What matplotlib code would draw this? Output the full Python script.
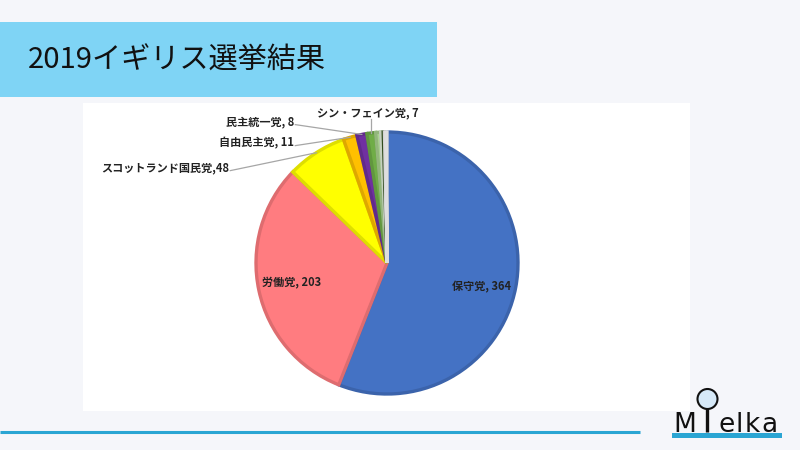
import matplotlib
matplotlib.use("Agg")
import matplotlib.pyplot as plt
import matplotlib.colors as mcolors
from matplotlib.patches import Rectangle, Circle
import numpy as np

plt.rcParams['font.family'] = ['Noto Sans CJK JP', 'DejaVu Sans']

title = "2019イギリス選挙結果"
parties = ["保守党", "労働党", "スコットランド国民党", "自由民主党", "民主統一党",
           "シン・フェイン党", "プライド・カムリ", "社会民主労働党", "緑の党", "同盟党", "議長"]
seats = [364, 203, 48, 11, 8, 7, 4, 2, 1, 1, 1]
labels = ["保守党, 364", "労働党, 203", "スコットランド国民党,48", "自由民主党, 11",
          "民主統一党, 8", "シン・フェイン党, 7", "", "", "", "", ""]
colors = ["#4472c4", "#ff7c80", "#ffff00", "#ffc000", "#7030a0", "#70ad47",
          "#a9d18e", "#e2efda", "#375623", "#f2f2f2", "#ffffff"]

W, H = 800, 450
fig = plt.figure(figsize=(8, 4.5), dpi=100)
fig.patch.set_facecolor("#f5f6fa")

# background axes in pixel coords
bg = fig.add_axes([0, 0, 1, 1])
bg.set_xlim(0, W)
bg.set_ylim(H, 0)
bg.axis("off")
bg.add_patch(Rectangle((0, 22), 437, 75, facecolor="#7fd4f5", edgecolor="none"))
bg.text(28, 61, title, fontsize=21, va="center", ha="left", color="#111111")
bg.add_patch(Rectangle((83, 103), 607, 308, facecolor="white", edgecolor="none"))
bg.plot([0, 640], [432, 432], color="#2aa5d3", lw=2.2, solid_capstyle="butt")

# logo
bg.add_patch(Rectangle((672, 433), 110, 5, facecolor="#2aa5d3", edgecolor="none"))
logo_letters = [("M", 673), ("e", 718), ("l", 736), ("k", 745), ("a", 761)]
for ch, x in logo_letters:
    bg.text(x, 432, ch, fontsize=19, family="DejaVu Sans", va="baseline",
            ha="left", color="#111111")
bg.plot([707, 707], [408, 432], color="#111111", lw=2.4, solid_capstyle="butt")
bg.add_patch(Circle((707.5, 399), 10, facecolor="#d6e9f8", edgecolor="#111111", lw=1.5, zorder=5))

# pie
cx, cy, r = 387, 263, 131
ax = fig.add_axes([(cx - r) / W, (H - cy - r) / H, 2 * r / W, 2 * r / H])

def darker(c, f=0.87):
    rgb = np.array(mcolors.to_rgb(c))
    return tuple(rgb * f)

edges = [darker(c) for c in colors]
wedges, _ = ax.pie(seats, colors=colors, startangle=90, counterclock=False,
                   radius=1.0, wedgeprops=dict(linewidth=2.4))
for w, ec in zip(wedges, edges):
    w.set_edgecolor(ec)
ax.set_xlim(-1, 1)
ax.set_ylim(-1, 1)
ax.axis("off")

total = sum(seats)
def mid_angle(i):
    start = 90 - 360 * sum(seats[:i]) / total
    return np.deg2rad(start - 180 * seats[i] / total)

fs = 8
# inside labels
for i, pos in [(0, (0.725, -0.185)), (1, (-0.73, -0.155))]:
    ax.text(pos[0], pos[1], labels[i], fontsize=fs, fontweight="bold",
            ha="center", va="center", color="#222222")

# outside labels with leader lines (text position in figure pixels)
outside = [(2, (229, 168), "right"), (3, (294, 143), "right"),
           (4, (294, 122), "right"), (5, (368, 113), "center")]
for i, (tx, ty), ha in outside:
    a = mid_angle(i)
    px, py = np.cos(a), np.sin(a)
    tgt_x, tgt_y = (tx - cx) / r, (cy - ty) / r
    if ha == "center":
        ly = (cy - (ty + 6)) / r
        ax.plot([px, px], [py, ly], color="#a6a6a6", lw=0.9, clip_on=False)
    else:
        ax.plot([tgt_x + 0.01, px], [tgt_y - 0.02, py], color="#a6a6a6", lw=0.9, clip_on=False)
    ax.text(tgt_x, tgt_y, labels[i], fontsize=fs, fontweight="bold", ha=ha,
            va="center", color="#222222", clip_on=False)

fig.savefig("out.png", dpi=100, facecolor=fig.get_facecolor())
